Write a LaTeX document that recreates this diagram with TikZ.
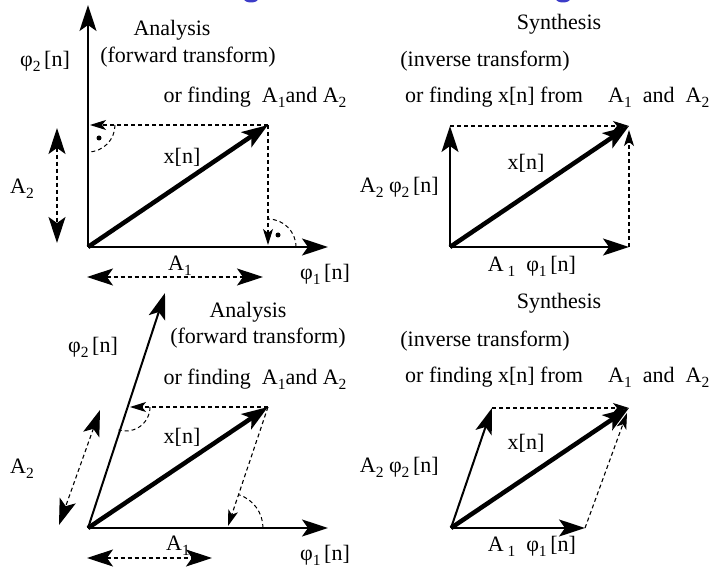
\documentclass[tikz,border=0pt]{standalone}
\usepackage{fontspec}
\setmainfont{Liberation Serif}
\usetikzlibrary{arrows.meta, positioning, calc}

\newcommand{\lsub}[1]{\raisebox{-5pt}{\fontsize{15.5}{15.5}\selectfont #1}}
\definecolor{titleblue}{RGB}{60,60,200}

\begin{document}
\begin{tikzpicture}[x=1pt, y=-1pt,
    every node/.style={font=\fontsize{22}{24}\selectfont, inner sep=0pt},
    axis/.style={line width=2pt, -{Stealth[length=26pt, width=17pt, inset=6pt]}},
    vec/.style={line width=4.5pt, -{Stealth[length=26pt, width=18pt, inset=6pt]}},
    proj/.style={line width=1.1pt, dash pattern=on 4pt off 3pt, -{Stealth[length=16pt, width=10pt, inset=4pt]}},
    dimarr/.style={line width=1.1pt, dash pattern=on 4pt off 3pt,
        {Stealth[length=26pt, width=17pt, inset=6pt]}-{Stealth[length=26pt, width=17pt, inset=6pt]}},
    rtarc/.style={line width=1pt, dash pattern=on 4pt off 3pt}]

    \useasboundingbox (0,0) rectangle (717,569);

    % Cut-off title at the top
    \begin{scope}
        \clip (0,0) rectangle (717,569);
        \fill[titleblue] (251,-1) ellipse (7 and 3.5);
        \fill[titleblue] (563,-1) ellipse (7 and 3.5);
    \end{scope}

    % ---- Top left: analysis, orthogonal basis ----
    \coordinate (O1) at (88,247);
    \coordinate (Y1) at (88,5);
    \coordinate (E1) at (328,247);
    \coordinate (X1) at (268,125);
    \coordinate (X1v) at (90,125);
    \coordinate (X1h) at (268,245);

    \draw[axis] (O1) -- (Y1);
    \draw[axis] (O1) -- (E1);
    \draw[vec] (O1) -- (X1);
    \draw[proj] (X1) -- (X1v);
    \draw[proj] (X1) -- (X1h);

    % Right angles
    \draw[rtarc] (115,125) arc[start angle=0, end angle=90, radius=27];
    \draw[rtarc] (296,247) arc[start angle=0, end angle=-90, radius=28];
    \fill (99,138) circle (2.5);
    \fill (278,235) circle (2.5);

    % Coefficients
    \draw[dimarr] (57,128) -- (57,243);
    \draw[dimarr] (87,277) -- (263,277);

    \node (phiA) at (45,61) {φ\lsub{2}\,[n]};
    \node (phiB) at (325,274) {φ\lsub{1}\,[n]};
    \node (anaA) at (172,30) {Analysis};
    \node (fwdA) at (188,57) {(forward transform)};
    \node (findA) at (255,97) {or finding\ \ A\lsub{1}and A\lsub{2}};
    \node (xA) at (182,157) {x[n]};
    \node (coefA2) at (22,189) {A\lsub{2}};
    \node (coefA1) at (180,266) {A\lsub{1}};

    % ---- Top right: synthesis, orthogonal basis ----
    \coordinate (O2) at (450,247);
    \coordinate (Y2) at (450,126);
    \coordinate (E2) at (629,247);
    \coordinate (X2) at (629,126);

    \draw[axis] (O2) -- (Y2);
    \draw[axis] (O2) -- (E2);
    \draw[vec] (O2) -- (X2);
    \draw[proj] (Y2) -- (X2);
    \draw[proj] (E2) -- ($(X2)+(0,4)$);

    \node (synB) at (559,24) {Synthesis};
    \node (invB) at (485,61) {(inverse transform)};
    \node[anchor=west] (findB) at (405,97) {or finding x[n] from};
    \node[anchor=west] (fromB) at (608,97) {A\lsub{1}\ \ and\ \ A\lsub{2}};
    \node[anchor=east] (wB2) at (439,187) {A\lsub{2} φ\lsub{2}\,[n]};
    \node (xB) at (526,163) {x[n]};
    \node (wB1) at (532,266) {A\,\lsub{1}\ \ φ\lsub{1}\,[n]};

    % ---- Bottom left: analysis, skewed basis ----
    \coordinate (O3) at (88,528);
    \coordinate (Y3) at (165,293);
    \coordinate (E3) at (328,528);
    \coordinate (X3) at (268,407);
    \coordinate (X3v) at (130,407);
    \coordinate (X3h) at (228,526);

    \draw[axis] (O3) -- (Y3);
    \draw[axis] (O3) -- (E3);
    \draw[vec] (O3) -- (X3);
    \draw[proj] (X3) -- (X3v);
    \draw[proj] (X3) -- (X3h);

    % Angles
    \draw[rtarc] (150,407) arc[start angle=0, end angle=108, radius=24];
    \draw[rtarc] (263,528) arc[start angle=0, end angle=-72, radius=35];

    % Coefficients
    \draw[dimarr] (100,410) -- (59,525);
    \draw[dimarr] (87,558) -- (212,558);

    \node (phiC) at (93,347) {φ\lsub{2}\,[n]};
    \node (phiD) at (325,555) {φ\lsub{1}\,[n]};
    \node (anaC) at (248,312) {Analysis};
    \node (fwdC) at (258,338) {(forward transform)};
    \node (findC) at (255,379) {or finding\ \ A\lsub{1}and A\lsub{2}};
    \node (xC) at (182,437) {x[n]};
    \node (coefC2) at (22,469) {A\lsub{2}};
    \node (coefC1) at (178,546) {A\lsub{1}};

    % ---- Bottom right: synthesis, skewed basis ----
    \coordinate (O4) at (451,528);
    \coordinate (Y4) at (492,408);
    \coordinate (E4) at (585,528);
    \coordinate (X4) at (629,408);

    \draw[axis] (O4) -- (Y4);
    \draw[axis] (O4) -- (E4);
    \draw[vec] (O4) -- (X4);
    \draw[proj] (Y4) -- (X4);
    \draw[proj] (E4) -- ($(X4)+(-2,5)$);

    \node (synD) at (559,303) {Synthesis};
    \node (invD) at (485,341) {(inverse transform)};
    \node[anchor=west] (findD) at (405,377) {or finding x[n] from};
    \node[anchor=west] (fromD) at (608,377) {A\lsub{1}\ \ and\ \ A\lsub{2}};
    \node[anchor=east] (wD2) at (439,467) {A\lsub{2} φ\lsub{2}\,[n]};
    \node (xD) at (526,443) {x[n]};
    \node (wD1) at (532,546) {A\,\lsub{1}\ \ φ\lsub{1}\,[n]};

\end{tikzpicture}
\end{document}
